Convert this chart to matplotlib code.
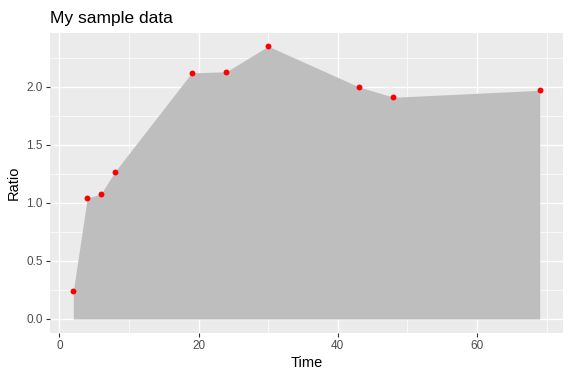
import matplotlib
matplotlib.use("Agg")
import matplotlib.pyplot as plt
from matplotlib.ticker import MultipleLocator, FormatStrFormatter

plt.rcParams['font.family'] = ['Liberation Sans', 'DejaVu Sans']

# data
time = [2, 4, 6, 8, 19, 24, 30, 43, 48, 69]
ratio = [0.24, 1.04, 1.08, 1.27, 2.12, 2.13, 2.35, 2.00, 1.91, 1.97]

fig = plt.figure(figsize=(5.7, 3.76), dpi=100)
ax = fig.add_axes([0.0877, 0.1154, 0.9, 0.798])
ax.set_facecolor('#EBEBEB')

ax.fill_between(time, ratio, 0, color='#BEBEBE', linewidth=0, zorder=2)
ax.scatter(time, ratio, s=18, color='red', linewidths=0, zorder=3)

# ggplot style 5% expansion
xr = max(time) - min(time)
ax.set_xlim(min(time) - 0.05 * xr, max(time) + 0.05 * xr)
yr = max(ratio)
ax.set_ylim(-0.05 * yr, yr * 1.05)

ax.xaxis.set_major_locator(MultipleLocator(20))
ax.xaxis.set_minor_locator(MultipleLocator(10))
ax.yaxis.set_major_locator(MultipleLocator(0.5))
ax.yaxis.set_minor_locator(MultipleLocator(0.25))
ax.yaxis.set_major_formatter(FormatStrFormatter('%.1f'))

ax.grid(which='major', color='white', linewidth=1.0, zorder=1)
ax.grid(which='minor', color='white', linewidth=0.5, zorder=1)
ax.set_axisbelow(True)

for s in ax.spines.values():
    s.set_visible(False)
ax.tick_params(which='major', length=3, width=0.8, color='#333333',
               labelsize=8.5, labelcolor='#4D4D4D', pad=2)
ax.tick_params(which='minor', length=0)

ax.set_xlabel('Time', fontsize=10.5, labelpad=3)
ax.set_ylabel('Ratio', fontsize=10.5, labelpad=4)
ax.set_title('My sample data', fontsize=12.5, loc='left', pad=7)

fig.savefig('out.png', dpi=100)
